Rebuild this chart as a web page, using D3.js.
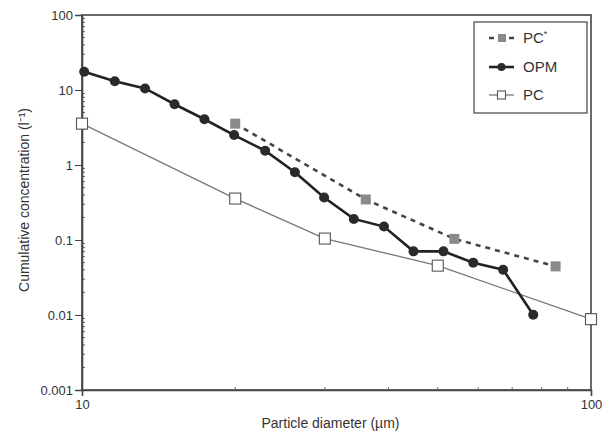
<!DOCTYPE html>
<html><head><meta charset="utf-8">
<script src="https://cdn.jsdelivr.net/npm/d3@7"></script>
<style>body{margin:0;background:#fff}svg{display:block}text{font-family:"Liberation Sans",Arial,sans-serif;fill:#333}</style>
</head><body><svg id="c" width="605" height="437"></svg>
<script>
// data
const opmD = [10.1, 11.6, 13.3, 15.2, 17.4, 19.9, 22.9, 26.2, 29.9, 34.2, 39.2, 44.8, 51.3, 58.7, 67.2, 77.0];
const opmC = [17.5, 13.1, 10.5, 6.46, 4.07, 2.51, 1.55, 0.80, 0.369, 0.191, 0.151, 0.0706, 0.0706, 0.0499, 0.0402, 0.0101];
const pcD = [10, 20, 30, 50, 100];
const pcC = [3.56, 0.357, 0.1045, 0.0455, 0.0088];
const pcsD = [20, 36.1, 53.9, 85.2];
const pcsC = [3.56, 0.347, 0.1035, 0.0445];
const yTicks = [100, 10, 1, 0.1, 0.01, 0.001];
const yTickLabels = ["100", "10", "1", "0.1", "0.01", "0.001"];
const xTicks = [10, 100];
const xTickLabels = ["10", "100"];
const seriesNames = ["PC*", "OPM", "PC"];

const svg = d3.select("#c");
const L = 82, R = 591, T = 15, B = 390;
const x = d3.scaleLog().domain([10, 100]).range([L, R]);
const y = d3.scaleLog().domain([0.001, 100]).range([B, T]);

// frame
svg.append("rect").attr("x", L).attr("y", T).attr("width", R - L).attr("height", B - T)
  .attr("fill", "none").attr("stroke", "#444").attr("stroke-width", 1.6);

// y minor ticks
const yMinor = [];
for (let e = -3; e < 2; e++) for (let m = 2; m <= 9; m++) yMinor.push(m * Math.pow(10, e));
svg.append("g").selectAll("line").data(yMinor).join("line")
  .attr("x1", L).attr("x2", L + 3).attr("y1", d => y(d)).attr("y2", d => y(d))
  .attr("stroke", "#666").attr("stroke-width", 1);
const xMinor = [20, 30, 40, 50, 60, 70, 80, 90];
svg.append("g").selectAll("line").data(xMinor).join("line")
  .attr("x1", d => x(d)).attr("x2", d => x(d)).attr("y1", B).attr("y2", B - 3)
  .attr("stroke", "#666").attr("stroke-width", 1);

// y axis major
const yAx = svg.append("g").attr("transform", `translate(${L},0)`)
  .call(d3.axisLeft(y).tickValues(yTicks).tickFormat((d, i) => yTickLabels[i]).tickSize(7).tickPadding(2));
yAx.select(".domain").attr("stroke", "#444").attr("stroke-width", 1.6);
yAx.selectAll(".tick line").attr("stroke", "#444");
yAx.selectAll("text").attr("font-size", 13).style("fill", "#333").style("font-family", "Liberation Sans, Arial, sans-serif");

const xAx = svg.append("g").attr("transform", `translate(0,${B})`)
  .call(d3.axisBottom(x).tickValues(xTicks).tickFormat((d, i) => xTickLabels[i]).tickSize(6).tickPadding(4));
xAx.select(".domain").attr("stroke", "#444").attr("stroke-width", 1.6);
xAx.selectAll(".tick line").attr("stroke", "#444");
xAx.selectAll("text").attr("font-size", 13).style("fill", "#333").style("font-family", "Liberation Sans, Arial, sans-serif");

// axis titles
svg.append("text").attr("x", (L + R) / 2 - 6).attr("y", 428).attr("text-anchor", "middle")
  .attr("font-size", 14).text("Particle diameter (µm)");
svg.append("text").attr("transform", "translate(29,200) rotate(-90)").attr("text-anchor", "middle")
  .attr("font-size", 14).text("Cumulative concentration (l⁻¹)");

const line = d3.line().x(d => x(d[0])).y(d => y(d[1]));

// PC
const pc = pcD.map((d, i) => [d, pcC[i]]);
svg.append("path").attr("d", line(pc)).attr("fill", "none").attr("stroke", "#777").attr("stroke-width", 1.3);
svg.append("g").selectAll("rect").data(pc).join("rect")
  .attr("x", d => x(d[0]) - 5.5).attr("y", d => y(d[1]) - 5.5).attr("width", 11).attr("height", 11)
  .attr("fill", "#fff").attr("stroke", "#555").attr("stroke-width", 1.1);

// PC*
const pcs = pcsD.map((d, i) => [d, pcsC[i]]);
svg.append("path").attr("d", line(pcs)).attr("fill", "none").attr("stroke", "#444")
  .attr("stroke-width", 2.6).attr("stroke-dasharray", "5,5");
svg.append("g").selectAll("rect").data(pcs).join("rect")
  .attr("x", d => x(d[0]) - 5).attr("y", d => y(d[1]) - 5).attr("width", 10).attr("height", 10)
  .attr("fill", "#8a8a8a");

// OPM
const opm = opmD.map((d, i) => [d, opmC[i]]);
svg.append("path").attr("d", line(opm)).attr("fill", "none").attr("stroke", "#222").attr("stroke-width", 2.6);
svg.append("g").selectAll("circle").data(opm).join("circle")
  .attr("cx", d => x(d[0])).attr("cy", d => y(d[1])).attr("r", 5).attr("fill", "#2a2a2a");

// legend
const lg = svg.append("g");
lg.append("rect").attr("x", 474).attr("y", 22).attr("width", 113).attr("height", 91)
  .attr("fill", "#fff").attr("stroke", "#444").attr("stroke-width", 1.2);
const ly = [38, 67, 95];
// PC*
lg.append("line").attr("x1", 489).attr("x2", 514).attr("y1", ly[0]).attr("y2", ly[0])
  .attr("stroke", "#444").attr("stroke-width", 2.6).attr("stroke-dasharray", "5,5");
lg.append("rect").attr("x", 498).attr("y", ly[0] - 4).attr("width", 8).attr("height", 8).attr("fill", "#8a8a8a");
// OPM
lg.append("line").attr("x1", 489).attr("x2", 514).attr("y1", ly[1]).attr("y2", ly[1])
  .attr("stroke", "#222").attr("stroke-width", 2.6);
lg.append("circle").attr("cx", 501.5).attr("cy", ly[1]).attr("r", 4).attr("fill", "#2a2a2a");
// PC
lg.append("line").attr("x1", 489).attr("x2", 514).attr("y1", ly[2]).attr("y2", ly[2])
  .attr("stroke", "#777").attr("stroke-width", 1.3);
lg.append("rect").attr("x", 497.5).attr("y", ly[2] - 4).attr("width", 8).attr("height", 8)
  .attr("fill", "#fff").attr("stroke", "#555").attr("stroke-width", 1.1);
lg.selectAll("text.lt").data(seriesNames).join("text").attr("class", "lt")
  .attr("x", 523).attr("y", (d, i) => ly[i] + 5).attr("font-size", 15).text(d => d === "PC*" ? "PC" : d)
  .each(function(d) { if (d === "PC*") d3.select(this).append("tspan").attr("font-size", 9).attr("dy", -6).text("*"); });
</script></body></html>
